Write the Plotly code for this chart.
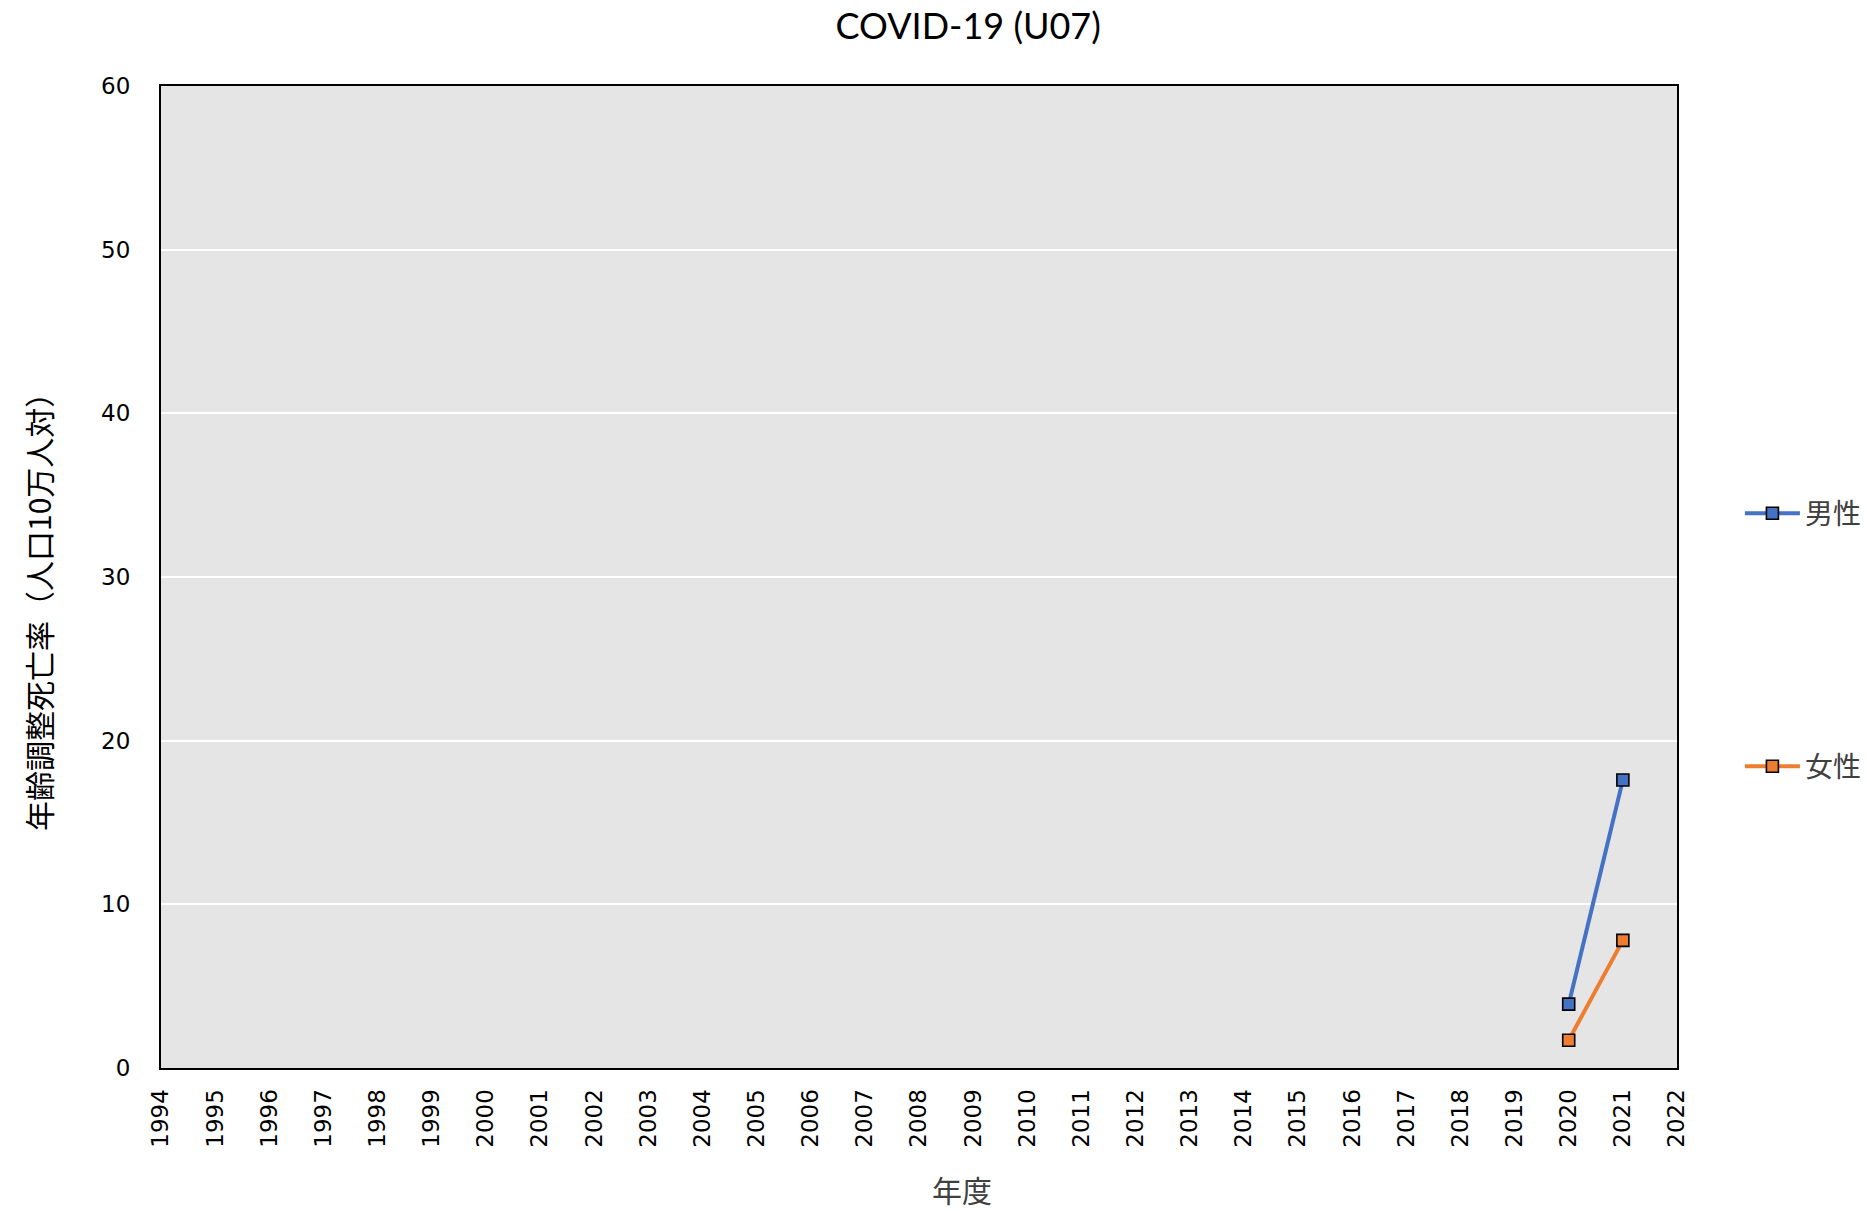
import plotly.graph_objects as go

# Age-adjusted mortality, COVID-19 (U07), per 100,000 population
years = [2020, 2021]
male_rate = [3.9, 17.6]
female_rate = [1.7, 7.8]
tick_years = list(range(1994, 2023))
y_ticks = [0, 10, 20, 30, 40, 50, 60]

JP_FONT = "Noto Sans CJK JP"
NUM_FONT = "DejaVu Sans"

fig = go.Figure()

fig.add_trace(go.Scatter(
    x=years, y=male_rate, name="男性", mode="lines+markers",
    line=dict(color="#4472C4", width=4),
    marker=dict(symbol="square", size=12, color="#4472C4",
                line=dict(color="black", width=1.6)),
    legend="legend", showlegend=True,
))
fig.add_trace(go.Scatter(
    x=years, y=female_rate, name="女性", mode="lines+markers",
    line=dict(color="#ED7D31", width=4),
    marker=dict(symbol="square", size=12, color="#ED7D31",
                line=dict(color="black", width=1.6)),
    legend="legend2", showlegend=True,
))

legend_style = dict(
    font=dict(family=JP_FONT, size=28, color="#404040"),
    bgcolor="rgba(0,0,0,0)", xanchor="left", yanchor="middle",
    itemwidth=55,
)

fig.update_layout(
    width=1867, height=1211, showlegend=True,
    paper_bgcolor="white", plot_bgcolor="#e5e5e5",
    margin=dict(l=161, r=190, t=86, b=143, autoexpand=False),
    title=dict(text="COVID-19 (U07)", x=0.5186, xref="container",
               y=1 - 26 / 1211, yref="container", xanchor="center", yanchor="middle",
               font=dict(family="Lato", size=36, color="black")),
    legend=dict(x=1.0415, y=0.5646, **legend_style),
    legend2=dict(x=1.0415, y=0.307, **legend_style),
    xaxis=dict(
        range=[1994, 2022], tickmode="array", tickvals=tick_years,
        ticktext=[str(y) for y in tick_years], tickangle=-90,
        showgrid=False, zeroline=False, showline=True, mirror=True,
        linecolor="black", linewidth=2, ticks="",
        tickfont=dict(family=NUM_FONT, size=23, color="black"),
        ticklabelstandoff=10,
    ),
    yaxis=dict(
        range=[0, 60], tickmode="array", tickvals=y_ticks,
        showgrid=True, gridcolor="white", gridwidth=1.5, zeroline=False,
        showline=True, mirror=True, linecolor="black", linewidth=2, ticks="",
        tickfont=dict(family=NUM_FONT, size=23, color="black"),
        ticklabelstandoff=24,
    ),
    annotations=[
        dict(text="年度", xref="paper", yref="paper",
             x=(962 - 161) / 1516, y=(1068 - 1189) / 982,
             xanchor="center", yanchor="middle", showarrow=False,
             font=dict(family=JP_FONT, size=30, color="#404040")),
        dict(text="年齢調整死亡率（人口10万人対）", xref="paper", yref="paper",
             x=(38 - 161) / 1516, y=(1068 - 605) / 982, textangle=-90,
             xanchor="center", yanchor="middle", showarrow=False,
             font=dict(family=JP_FONT, size=30, color="black")),
    ],
)

fig.write_html("out.html")
